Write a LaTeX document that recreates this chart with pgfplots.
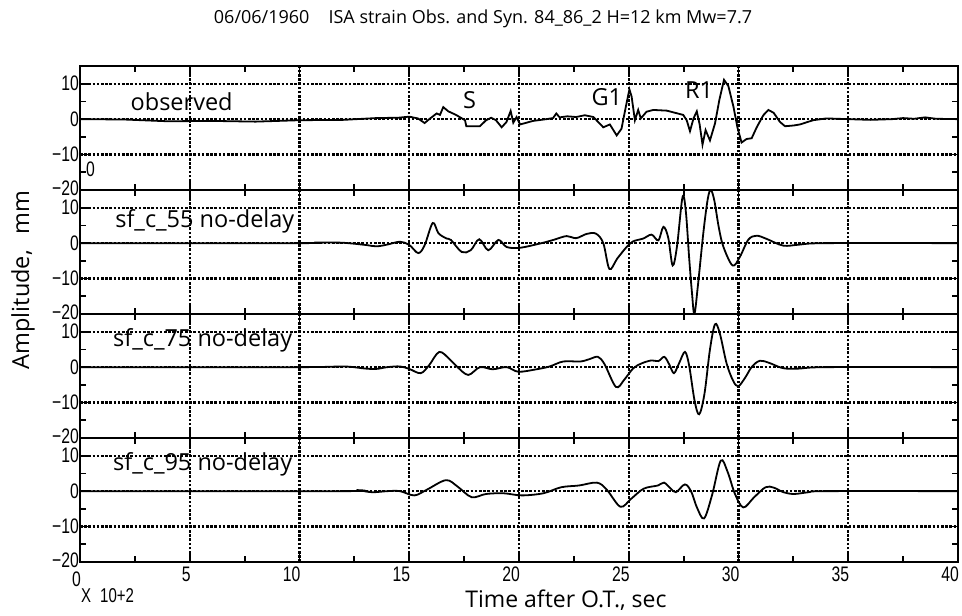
\documentclass[border=0pt]{standalone}
\usepackage{fontspec}
\setmainfont{Open Sans}
\newfontfamily\tickfont[FakeStretch=0.75]{Liberation Sans}
\usepackage{pgfplots}
\pgfplotsset{compat=1.18}
\pgfplotsset{
  panel/.style={
    scale only axis, width=878pt, height=124pt,
    xmin=0, xmax=40, ymin=-20, ymax=15,
    xtick={0,5,...,40}, minor xtick={2.5,7.5,...,37.5},
    ytick={-20,-10,0,10}, minor ytick={-15,-5,5},
    yticklabels={\raisebox{3pt}{−20},−10,0,\raisebox{-1.5pt}{10}},
    xticklabels=\empty,
    grid=major,
    every axis grid/.style={black, line width=2.2pt, dash pattern=on 2.6pt off 1.6pt},
    major grid style={black, line width=2.2pt, dash pattern=on 2.6pt off 1.6pt},
    tick align=inside,
    major tick length=8pt, minor tick length=6pt,
    every tick/.style={black, line width=1.8pt},
    axis line style={line width=2.2pt},
    yticklabel style={font=\tickfont\fontsize{21}{21}\selectfont, inner xsep=1pt, inner ysep=0pt},
    xticklabel style={font=\tickfont\fontsize{21}{21}\selectfont, anchor=north east, inner sep=0pt, xshift=1pt, yshift=-5pt},
    clip=true,
  },
  sig/.style={black, line width=1.8pt, no markers},
  syn/.style={black, line width=1.8pt, no markers, smooth, tension=0.55},
}
\tikzset{lab/.style={font=\fontsize{23.5}{23.5}\selectfont, anchor=west, inner sep=0pt}}
\begin{document}
\begin{tikzpicture}
\path[use as bounding box] (-80pt,66pt) rectangle (882pt,-550pt);
% panel 1: observed
\begin{axis}[panel, at={(0pt,0pt)}, anchor=north west]
\addplot[sig] coordinates {
(0,0) (2,-0.1) (4,-0.6) (6,-0.5) (8,-0.7) (10,-0.3) (12,-0.2) (13.5,0.3) (14.5,0.4) (15,0.7) (15.4,0.2) (15.7,-1.1) (15.95,0.2) (16.25,1.6) (16.4,1.2) (16.55,3.4) (16.78,2.2) (17.13,1.2) (17.54,-0.3) (17.6,-2) (18.22,-2) (18.5,-0.3) (18.73,0.4) (18.95,-0.3) (19.21,-2.3) (19.43,-0.8) (19.62,2.3) (19.74,-1) (19.89,0.6) (20.05,-1.5) (20.64,-0.5) (21.25,0) (21.55,0.3) (21.7,1.6) (21.85,0.5) (22.2,0.8) (22.6,0.6) (23.0,1.1) (23.39,0.6) (23.84,-2.3) (24.14,-1.5) (24.45,-4.6) (24.67,-2.7) (24.87,3.6) (25.03,8.4) (25.13,6.4) (25.28,-0.3) (25.43,2.6) (25.55,0.2) (25.81,2.1) (26.12,2.6) (26.73,2.4) (27.48,1.2) (27.64,-0.3) (27.79,-3.4) (27.95,0.2) (28.1,2.2) (28.23,-1.5) (28.36,-7.2) (28.5,-3.1) (28.7,-6) (28.93,-1.2) (29.13,5.5) (29.34,11.1) (29.54,9.3) (29.77,3.5) (29.95,-2.3) (30.14,-6.6) (30.37,-5.6) (30.6,-5.4) (30.83,-2.3) (31.13,1.1) (31.36,2.6) (31.6,1.8) (31.89,-0.8) (32.12,-2) (32.5,-1.8) (32.8,-1.5) (33.4,-0.3) (34,0.2) (35,0) (36,-0.2) (37,0) (37.5,0.3) (38,0.1) (38.5,0.5) (39,0.1) (40,0)
};
\node[lab] at (axis cs:2.3,5) {observed};
\node[font=\fontsize{23.5}{23.5}\selectfont, inner sep=0pt] at (axis cs:17.75,5.3) {S};
\node[font=\fontsize{23.5}{23.5}\selectfont, inner sep=0pt] at (axis cs:24.0,6.3) {G1};
\node[font=\fontsize{23.5}{23.5}\selectfont, inner sep=0pt] at (axis cs:28.2,8.1) {R1};
\node[font=\tickfont\fontsize{21}{21}\selectfont, inner sep=0pt] at (axis cs:0.48,-14.2) {0};
\end{axis}
% panel 2
\begin{axis}[panel, at={(0pt,-124pt)}, anchor=north west]
\addplot[syn] coordinates {
(0,0) (10,0) (11,0.2) (12,0.1) (13,-0.5) (13.5,-0.9) (14,-0.4) (14.58,0.4) (15,-0.5) (15.41,-2.8) (15.7,-0.6) (16.07,5.7) (16.33,2.8) (16.7,1.3) (16.9,0.9) (17.39,-2.5) (17.8,-2.0) (18.19,1.1) (18.6,-2) (19.06,0.9) (19.44,-1.1) (20.05,-1.3) (20.96,-0.1) (21.56,0.9) (22.17,2) (22.6,1.4) (23.08,2.6) (23.5,2.7) (23.84,0) (24.12,-7.3) (24.47,-4.4) (24.9,-1.1) (25.2,0.5) (25.66,1.3) (26.04,2.4) (26.35,0.8) (26.58,4.6) (26.8,1.5) (27.0,-6.3) (27.2,-0.8) (27.45,13) (27.6,9) (27.75,-4) (27.88,-14) (27.99,-20) (28.15,-12) (28.4,3) (28.6,12.5) (28.74,15) (28.9,12) (29.1,4.5) (29.31,-1) (29.73,-6.3) (30.06,-3.9) (30.45,1) (30.83,2.1) (31.28,1.2) (32.04,-0.7) (32.8,-0.4) (34,0) (40,0)
};
\node[lab] at (axis cs:1.6,6.1) {sf\_c\_55 no-delay};
\end{axis}
% panel 3
\begin{axis}[panel, at={(0pt,-248pt)}, anchor=north west]
\addplot[syn] coordinates {
(0,0) (10,0) (12,0.2) (13,-0.4) (13.5,-0.5) (14,0) (14.58,0.2) (15,-0.5) (15.52,-1.7) (15.9,0.5) (16.37,4.3) (16.86,2.1) (17.2,0) (17.69,-2.2) (18.22,0) (18.8,-0.6) (19.44,0) (19.97,-1.3) (20.8,-0.6) (21.4,0.2) (22.02,1.6) (22.8,1.6) (23.23,2.3) (23.6,2.9) (23.9,0.8) (24.42,-5.6) (24.8,-3.5) (25.21,-0.3) (25.6,1.1) (26.04,1.9) (26.35,1.7) (26.62,2.9) (26.85,0.7) (27.06,-1.7) (27.3,1.2) (27.56,4.3) (27.75,0.5) (28.0,-9.5) (28.21,-13.3) (28.45,-7.5) (28.7,5) (28.93,12.1) (29.15,9.5) (29.46,1) (29.76,-3.9) (29.99,-5.4) (30.3,-3) (30.62,0.2) (30.98,1.8) (31.4,1.2) (32.04,-0.3) (32.8,-0.4) (34,0) (40,0)
};
\node[lab] at (axis cs:1.5,7.5) {sf\_c\_75 no-delay};
\end{axis}
% panel 4
\begin{axis}[panel, at={(0pt,-372pt)}, anchor=north west,
  xticklabels={\raisebox{-4pt}[15pt][0pt]{0}\hspace{9pt},5,10,15,20,25,30,35,40}]
\addplot[syn] coordinates {
(0,0) (12,0) (12.6,0.3) (13.3,-0.3) (14,0) (14.58,0) (15.23,-1.2) (15.8,0.4) (16.67,3.1) (17.2,1.3) (17.84,-1.7) (18.5,-0.8) (19.3,-0.6) (20.13,-1.2) (21.11,-0.6) (21.92,1.1) (22.74,1.6) (23.55,2.4) (24.0,0.4) (24.62,-4.4) (25.1,-2.2) (25.68,0.7) (26.33,1.6) (26.61,2.4) (26.9,0.8) (27.15,-0.3) (27.56,1.9) (27.85,-0.2) (28.1,-4.5) (28.43,-7.7) (28.8,-1) (29.19,8.6) (29.5,5.5) (29.84,-0.8) (30.22,-4.6) (30.7,-1.8) (31.23,1.1) (31.6,1.0) (32.05,-0.3) (32.53,-0.8) (33.2,-0.3) (34,0) (40,0)
};
\node[lab] at (axis cs:1.5,7.7) {sf\_c\_95 no-delay};
\end{axis}
% titles and labels
\node[font=\fontsize{18}{18}\selectfont] at (403pt,47pt) {06/06/1960\hspace{0.8em} ISA strain Obs. and Syn. 84\_86\_2 H=12 km Mw=7.7};
\node[font=\fontsize{23.5}{23.5}\selectfont, rotate=90] at (-57pt,-214pt) {Amplitude,\hspace{0.4em} mm};
\node[font=\fontsize{23}{23}\selectfont] at (486pt,-534pt) {Time after O.T., sec};
\node[font=\tickfont\fontsize{20}{20}\selectfont, anchor=west, inner sep=0pt] at (1pt,-530pt) {X\hspace{0.45em}10+2};
\end{tikzpicture}
\end{document}
